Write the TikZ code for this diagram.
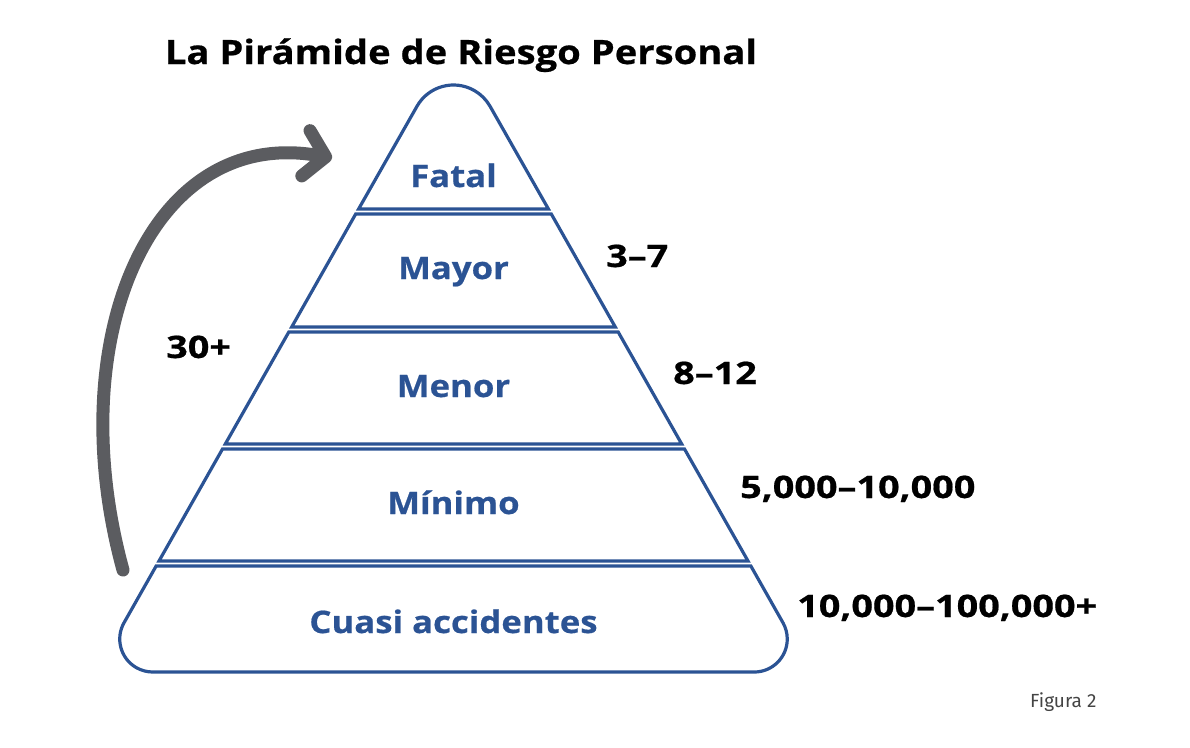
\documentclass[tikz,border=0pt]{standalone}
\usepackage{fontspec}
\setmainfont{Open Sans}[BoldFont={Open Sans Bold}]
\newfontfamily\figfont{Fira Sans}
\usetikzlibrary{arrows.meta}
\definecolor{pyrblue}{HTML}{2B5394}
\definecolor{arrowgray}{HTML}{5B5C60}
\definecolor{figgray}{HTML}{444444}
\tikzset{
  band/.style={draw=pyrblue, line width=3.2pt, line join=miter},
  bandlabel/.style={text=pyrblue, font=\bfseries\fontsize{31}{36}\selectfont\addfontfeatures{FakeStretch=1.12,FakeBold=0.6}, anchor=base, inner sep=0pt},
  countlabel/.style={text=black, font=\bfseries\fontsize{31}{36}\selectfont\addfontfeatures{FakeStretch=1.22,FakeBold=0.6}, anchor=base west, inner sep=0pt},
  titlelabel/.style={text=black, font=\bfseries\fontsize{33.5}{38}\selectfont\addfontfeatures{FakeStretch=1.14,FakeBold=0.6}, anchor=base, inner sep=0pt},
  bigarrow/.style={draw=arrowgray, line width=13pt, line cap=round,
    -{Straight Barb[length=20pt, width=46pt, line cap=round, line join=round]}}
}
\begin{document}
\begin{tikzpicture}[x=1pt, y=-1pt]
\useasboundingbox (0,0) rectangle (1190,747);
% pyramid bands
\draw[band] (358.6,209) -- (417,106.25) arc[start angle=-150.4, end angle=-29.6, radius=42] -- (548.4,209) -- cycle;
\draw[band] (355.7,214) -- (551.3,214) -- (615.3,327) -- (291.7,327) -- cycle;
\draw[band] (288.8,332) -- (618.2,332) -- (681.7,444) -- (225.3,444) -- cycle;
\draw[band] (222.5,449) -- (684.5,449) -- (748.0,561) -- (159.0,561) -- cycle;
\draw[band] (156.15,566) -- (124.05,622.7) arc[start angle=209.6, end angle=90, radius=33] -- (754.25,672) arc[start angle=90, end angle=-29.6, radius=33] -- (750.85,566) -- cycle;
% title
\node[titlelabel] (title) at (461,64) {La Pirámide de Riesgo Personal};
% band labels
\node[bandlabel] (fatal) at (453.5,187) {Fatal};
\node[bandlabel] (mayor) at (453.5,279) {Mayor};
\node[bandlabel] (menor) at (453.5,397) {Menor};
\node[bandlabel] (minimo) at (453.5,514) {Mínimo};
\node[bandlabel] (cuasi) at (453.5,633) {Cuasi accidentes};
% counts
\node[countlabel] (c1) at (606,267) {3–7};
\node[countlabel] (c2) at (673,384) {8–12};
\node[countlabel] (c3) at (740,498) {5,000–10,000};
\node[countlabel] (c4) at (797,617) {10,000–100,000+};
\node[countlabel] (c5) at (166,358) {30+};
% arrow
\coordinate (astart) at (123,570);
\coordinate (aend) at (332,158);
\draw[bigarrow] (astart) .. controls (60,340) and (150,125) .. (aend);
% figure caption
\node[text=figgray, font=\figfont\fontsize{19}{22}\selectfont, anchor=base west, inner sep=0pt] (fig) at (1030,707) {Figura 2};
\end{tikzpicture}
\end{document}
